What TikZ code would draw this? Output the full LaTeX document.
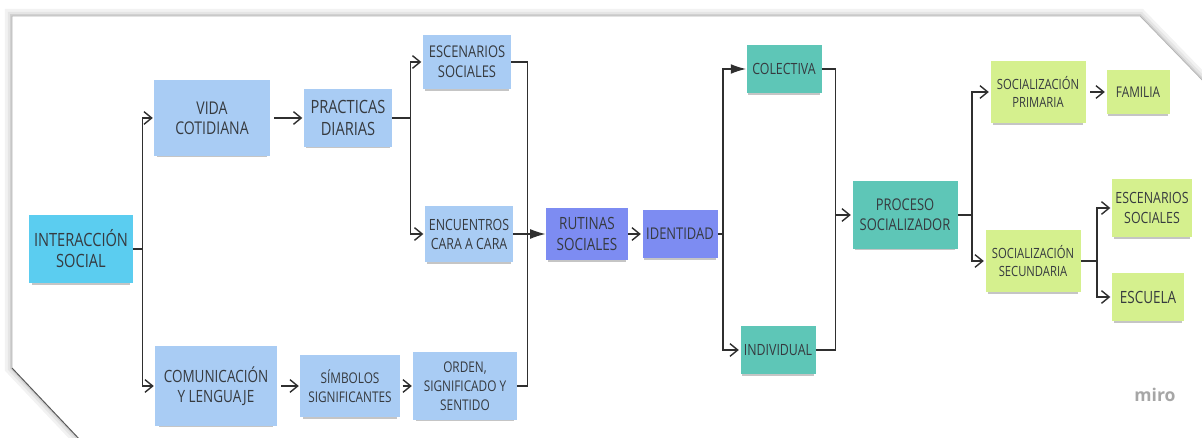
\documentclass[tikz,border=0pt]{standalone}
\usepackage{fontspec}
\setmainfont{Open Sans}[FakeStretch=0.8]
\newfontfamily\mirofont{Open Sans}
\usetikzlibrary{arrows.meta,shadows,calc}
\definecolor{notetext}{HTML}{363A3F}
\definecolor{linkgray}{HTML}{2F2F2F}
\definecolor{cyanbox}{HTML}{5BCDF0}
\definecolor{skybox}{HTML}{A9CCF4}
\definecolor{violetbox}{HTML}{7D8CF2}
\definecolor{tealbox}{HTML}{5EC6B7}
\definecolor{limebox}{HTML}{D5F08E}
\newcommand{\boxfont}[2]{\fontsize{#1}{#2}\selectfont}
\tikzset{
  note/.style={fill=#1, text=notetext, align=center, inner sep=1pt,
    drop shadow={shadow xshift=0pt, shadow yshift=-2.5pt, shadow scale=0.95, opacity=0.45}},
  sz/.style 2 args={minimum width=#1*0.25mm, minimum height=#2*0.25mm},
  link/.style={draw=linkgray, line width=1pt},
  open/.style={link, shorten >=1pt, -{Straight Barb[length=5.5pt,width=9pt,line width=1pt]}},
  fillarrow/.style={link, -{Latex[length=11pt,width=7pt]}}
}

\begin{document}
\begin{tikzpicture}[x=0.025cm, y=-0.025cm]
\useasboundingbox (0,0) rectangle (1202,438);
% Frame of the board
\draw[black!5, line width=10pt] (82,442) -- (12,368) -- (12,16) -- (1140,16) -- (1206,84);
\draw[black!10, line width=6pt] (82,442) -- (12,368) -- (12,16) -- (1140,16) -- (1206,84);
\draw[black!18, line width=2.6pt] (82,442) -- (12,368) -- (12,16) -- (1140,16) -- (1206,84);
\fill[white] (12,16) -- (1140,16) -- (1206,84) -- (1206,442) -- (82,442) -- (12,368) -- cycle;
\draw[black!30, line width=0.5pt] (12,368) -- (12,16) -- (1140,16) -- (1206,84);
\draw[black!65, line width=0.7pt] (82,442) -- (12,368);

% Notes
\node[note=cyanbox, sz={103}{68}, font=\boxfont{13}{15}] (inter) at (81,249) {INTERACCIÓN\\SOCIAL};
\node[note=skybox, sz={115}{75}, font=\boxfont{12.5}{14}] (vida) at (212,118) {VIDA\\COTIDIANA};
\node[note=skybox, sz={88}{57}, font=\boxfont{13}{15}] (prac) at (348,118) {PRACTICAS\\DIARIAS};
\node[note=skybox, sz={88}{53}, font=\boxfont{11.5}{14}] (esc) at (467,62) {ESCENARIOS\\SOCIALES};
\node[note=skybox, sz={88}{56}, font=\boxfont{11}{13.5}] (enc) at (469,234) {ENCUENTROS\\CARA A CARA};
\node[note=skybox, sz={121}{79}, font=\boxfont{12}{14}] (comu) at (216,386) {COMUNICACIÓN\\Y LENGUAJE};
\node[note=skybox, sz={99}{62}, font=\boxfont{10.5}{13.5}] (simb) at (350,386) {SÍMBOLOS\\SIGNIFICANTES};
\node[note=skybox, sz={103}{67}, font=\boxfont{10.5}{13.5}] (orden) at (465,386) {ORDEN,\\SIGNIFICADO Y\\SENTIDO};
\node[note=violetbox, sz={82}{52}, font=\boxfont{12}{15}] (rut) at (587,234) {RUTINAS\\SOCIALES};
\node[note=violetbox, sz={75}{48}, font=\boxfont{11.5}{14}] (iden) at (680,234) {IDENTIDAD};
\node[note=tealbox, sz={75}{48}, font=\boxfont{11}{14}] (colec) at (784,69) {COLECTIVA};
\node[note=tealbox, sz={75}{48}, font=\boxfont{11}{14}] (indiv) at (778,350) {INDIVIDUAL};
\node[note=tealbox, sz={105}{67}, font=\boxfont{11.5}{14.5}] (proc) at (905,215) {PROCESO\\SOCIALIZADOR};
\node[note=limebox, sz={95}{62}, font=\boxfont{10}{13}] (socp) at (1038,92) {SOCIALIZACIÓN\\PRIMARIA};
\node[note=limebox, sz={63}{43}, font=\boxfont{10.5}{13}] (fam) at (1138,92) {FAMILIA};
\node[note=limebox, sz={95}{62}, font=\boxfont{10}{13}] (socs) at (1033,261) {SOCIALIZACIÓN\\SECUNDARIA};
\node[note=limebox, sz={80}{58}, font=\boxfont{11}{14}] (esc2) at (1152,208) {ESCENARIOS\\SOCIALES};
\node[note=limebox, sz={72}{48}, font=\boxfont{12}{14}] (escu) at (1148,297) {ESCUELA};
\node[text=black!35, font=\mirofont\bfseries\fontsize{12.5}{14}\selectfont] (miro) at (1155,395) {miro};

% Interacción social branches
\draw[link] (inter.east) -- ++(10,0) coordinate (j1);
\draw[open] (j1) |- (vida.west);
\draw[open] (j1) |- (comu.west);
% Vida cotidiana chain
\draw[open, shorten <=3pt] (vida.east) -- (prac.west);
\draw[link] (prac.east) -- ++(18,0) coordinate (j2);
\draw[open] (j2) |- (esc.west);
\draw[open] (j2) |- (enc.west);
% Comunicación chain
\draw[open, shorten <=3pt] (comu.east) -- (simb.west);
\draw[open, shorten <=2pt] (simb.east) -- (orden.west);
% Merge into Rutinas sociales
\coordinate (j3) at ($(enc.east)+(14,0)$);
\draw[link] (esc.east) -| (j3);
\draw[link] (orden.east) -| (j3);
\draw[fillarrow] (enc.east) -- (rut.west);
\draw[open] (rut.east) -- (iden.west);
% Identidad branches
\draw[link] (iden.east) -- ++(5,0) coordinate (j4);
\draw[fillarrow] (j4) |- (colec.west);
\draw[open] (j4) |- (indiv.west);
% Merge into Proceso socializador
\coordinate (j5) at ($(proc.west)+(-17,0)$);
\draw[link] (colec.east) -| (j5);
\draw[link] (indiv.east) -| (j5);
\draw[open] (j5) -- (proc.west);
% Proceso socializador branches
\draw[link] (proc.east) -- ++(14,0) coordinate (j6);
\draw[open] (j6) |- (socp.west);
\draw[open] (j6) |- (socs.west);
\draw[open, shorten <=3pt] (socp.east) -- (fam.west);
% Secundaria branches
\draw[link] (socs.east) -- ++(16,0) coordinate (j7);
\draw[open] (j7) |- (esc2.west);
\draw[open] (j7) |- (escu.west);
\end{tikzpicture}
\end{document}
